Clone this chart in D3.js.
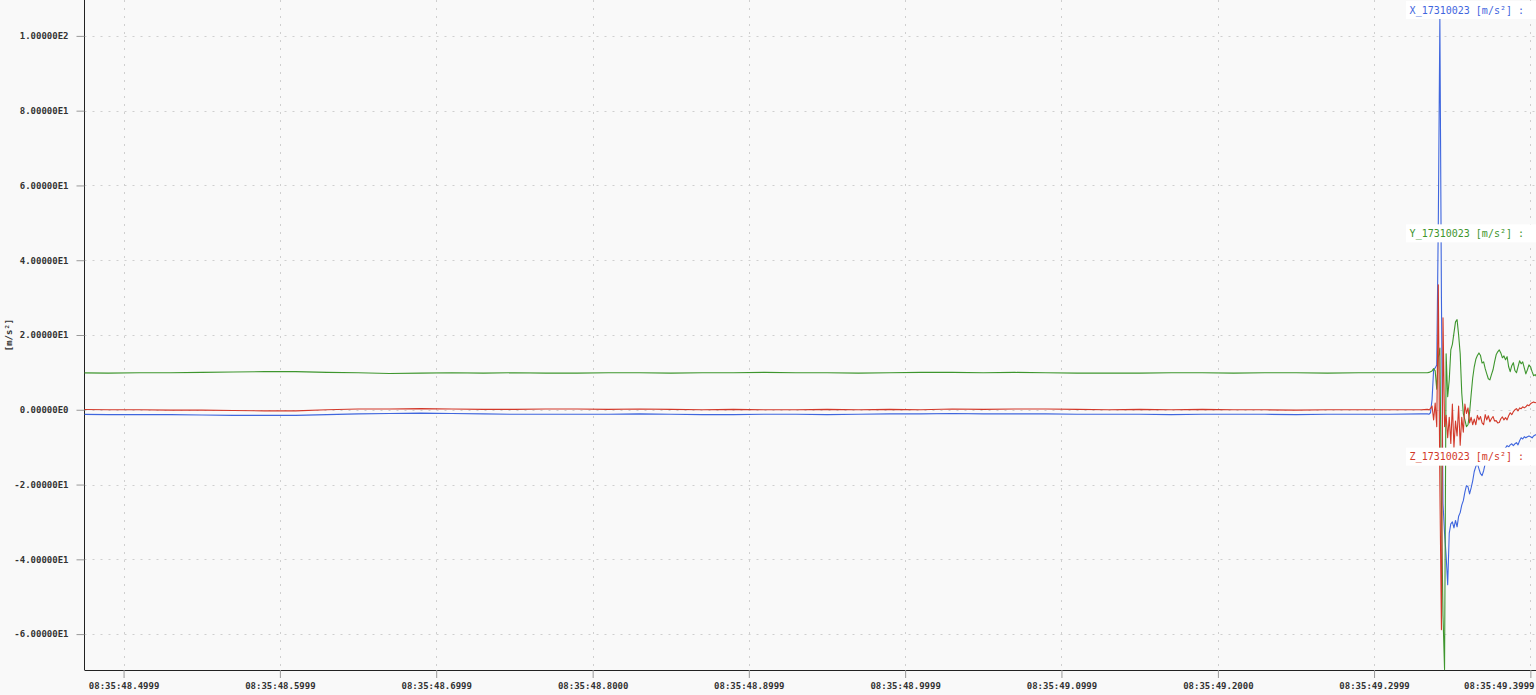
<!DOCTYPE html>
<html>
  <head>
  <title>Accel</title>
  <style>
    body, html {
      margin: 0;
      padding: 0;
      background: #f9f9f9;
      overflow: hidden;
    }
    text {
      font-family: "DejaVu Sans Mono", monospace;
    }
  </style>
  </head>
  <body>

  <svg id="svg" width="1536" height="695"></svg>
  <script src="https://d3js.org/d3.v7.min.js"></script>
  <script>
      // time in ms relative to 08:35:49.3000
      const timeMs = [
        -830, -810, -790, -770, -750, -730, -710, -690, -670, -650, -630, -610, -590, -570, -550,
        -530, -510, -490, -470, -450, -430, -410, -390, -370, -350, -330, -310, -290, -270, -250,
        -230, -210, -190, -170, -150, -130, -110, -90, -70, -50, -30, -10, 10, 30,
        34, 35, 36, 37, 38, 39, 40, 41, 42, 43, 44, 45, 46, 47, 48, 49, 50, 51, 52, 53,
        54, 55, 56, 57, 58, 59, 60, 61, 62, 63, 64, 65, 66, 67, 68, 69, 70, 71, 72, 73,
        74, 75, 76, 77, 78, 79, 80, 81, 82, 83, 84, 85, 86, 87, 88, 89, 90, 91, 92, 93,
        94, 95, 96, 97, 98, 99, 100, 101, 102, 103, 104
      ]
      const xValues = [
        -1.2, -1.3, -1.3, -1.3, -1.4, -1.5, -1.5, -1.5, -1.3, -1.1, -1.0, -0.9, -1.0, -1.1, -1.2,
        -1.2, -1.2, -1.2, -1.1, -1.2, -1.3, -1.3, -1.2, -1.2, -1.3, -1.2, -1.1, -1.1, -1.0, -1.1,
        -1.1, -1.1, -1.2, -1.2, -1.2, -1.3, -1.2, -1.2, -1.2, -1.3, -1.2, -1.2, -1.2, -1.1,
        -1.1, -1.2, -0.8, 2.7, 10.7, 11.2, 12.0, 50, 104.8, 30, -25, -33, -39, -46.8, -33, -30.5,
        -30, -31.6, -29.6, -31.3, -28.5, -27.5, -25.5, -24.3, -22, -20.3, -20.6, -22.5, -20.9, -19,
        -16.5, -15.2, -14.4, -15.8, -17.1, -17.6, -16.3, -14.4, -14.2, -13.9, -14.2, -13.1, -12.3,
        -12.6, -11.8, -11.2, -11.5, -10.7, -10.4, -10.7, -10.2, -9.6, -9.9, -9.4, -9.1, -9.6, -9.1,
        -8.8, -9.4, -8.3, -7.5, -7.8, -7.2, -7.5, -7.2, -7.0, -7.2, -7.5, -7.0, -6.7, -6.7
      ]
      const yValues = [
        9.9, 9.8, 9.9, 9.9, 10.0, 10.1, 10.2, 10.2, 10.0, 9.9, 9.7, 9.8, 9.9, 9.8, 9.9,
        9.8, 9.8, 9.9, 9.9, 9.8, 9.9, 9.9, 10.0, 9.9, 9.9, 9.8, 9.9, 10.0, 10.0, 9.9,
        10.0, 9.9, 9.8, 9.8, 9.8, 9.9, 9.9, 9.8, 9.9, 9.9, 9.8, 9.9, 9.9, 9.9,
        9.9, 10.0, 10.2, 10.4, 11.0, 10.4, 5.5, 14, 16.5, -25, -55, -69.5, 15, 3.5, 8, 16,
        17.5, 20.5, 23.5, 24.1, 20, 15, 4.5, -1, -2.7, -4.5, -4, -0.8, 4, 8.5,
        11.5, 13.5, 14.5, 15.2, 14.5, 12.5, 12.8, 11, 9.6, 8.3, 8.0, 9.4, 10.7,
        12.8, 14.7, 15.5, 16.0, 15.2, 13.9, 14.4, 13.4, 14.2, 11.5, 10.2, 11.8, 12.6, 10.5,
        9.9, 11.5, 13.1, 12.3, 12.8, 11.2, 9.6, 10.7, 12.0, 11.5, 10.2, 9.1, 9.4, 8.8
      ]
      const zValues = [
        0.1, 0.0, 0.0, -0.1, -0.1, -0.2, -0.3, -0.3, 0.0, 0.2, 0.2, 0.3, 0.2, 0.1, 0.1,
        0.2, 0.2, 0.1, 0.2, 0.1, 0.0, 0.1, 0.0, 0.0, 0.1, 0.0, 0.1, 0.0, 0.2, 0.1,
        0.2, 0.2, 0.1, 0.0, 0.1, 0.0, 0.1, 0.0, 0.0, -0.1, 0.0, 0.0, 0.0, 0.0,
        0.1, 0.0, 0.3, 1.0, -2.7, 1.8, -4.5, 33.4, -20, -58.8, 24.6, -4.5, -1.5, -7.5, -2, -9,
        1.5, -10, -3, -7, 1, -9.5, -2, -6, 1.5, -1, 0.5, -3.5, -2, -4,
        -2.5, -4, -1.5, -2.7, -1.8, -3.5, -4.0, -1.3, -2.7, -1.6, -3.2, -2.4, -1.8,
        -3.0, -2.9, -3.5, -3.4, -2.4, -1.9, -2.7, -2.1, -2.7, -1.6, -0.8, -1.3, -0.5, 0.0,
        0.3, -0.3, 0.5, 0.3, 0.8, 0.5, 0.8, 1.3, 1.1, 1.6, 1.9, 2.1, 1.9, 2.0
      ]
      const seriesNames = ['X_17310023 [m/s²] :', 'Y_17310023 [m/s²] :', 'Z_17310023 [m/s²] :']
      const seriesColors = ['#3f66de', '#3e962e', '#d2392a']
      const xTickLabels = [
        '08:35:48.4999', '08:35:48.5999', '08:35:48.6999', '08:35:48.8000', '08:35:48.8999',
        '08:35:48.9999', '08:35:49.0999', '08:35:49.2000', '08:35:49.2999', '08:35:49.3999'
      ]
      const yTickValues = [-60, -40, -20, 0, 20, 40, 60, 80, 100]
      const yTickLabels = ['-6.00000E1', '-4.00000E1', '-2.00000E1', '0.00000E0', '2.00000E1',
        '4.00000E1', '6.00000E1', '8.00000E1', '1.00000E2']
      const xDomain = [-825.1, 103.5]
      const yDomain = [-69.6, 109.6]

      function draw() {
        const width = 1536
        const height = 695
        const margin = { left: 84.5, right: 0, top: 0, bottom: 25 }
        const innerH = height - margin.top - margin.bottom

        const x = d3.scaleLinear().domain(xDomain).range([margin.left, width - margin.right])
        const y = d3.scaleLinear().domain(yDomain).range([height - margin.bottom, margin.top])

        const tickMs = xTickLabels.map(s => {
          const p = s.split(':')
          return (+p[2] - 49.3) * 1000
        })

        const svg = d3.select('#svg')
        svg.append('rect').attr('width', width).attr('height', height).attr('fill', '#f9f9f9')

        svg.append('clipPath').attr('id', 'clip')
            .append('rect')
            .attr('x', margin.left).attr('y', margin.top)
            .attr('width', width - margin.left - margin.right)
            .attr('height', innerH + 0.5)

        // grid
        const grid = svg.append('g')
            .attr('stroke', '#cfcfcf')
            .attr('stroke-dasharray', '2,6')
            .attr('stroke-width', 1)
        grid.selectAll('line.gx')
            .data(tickMs)
            .join('line')
            .attr('class', 'gx')
            .attr('x1', d => Math.round(x(d)) + 0.5)
            .attr('x2', d => Math.round(x(d)) + 0.5)
            .attr('y1', margin.top)
            .attr('y2', height - margin.bottom)
        grid.selectAll('line.gy')
            .data(yTickValues)
            .join('line')
            .attr('class', 'gy')
            .attr('x1', margin.left)
            .attr('x2', width)
            .attr('y1', d => Math.round(y(d)) + 0.5)
            .attr('y2', d => Math.round(y(d)) + 0.5)

        // axes
        const xAxis = d3.axisBottom(x)
            .tickValues(tickMs)
            .tickFormat((d, i) => xTickLabels[i])
            .tickSize(8)
            .tickPadding(5)
        const gx = svg.append('g')
            .attr('transform', `translate(0, ${height - margin.bottom})`)
            .call(xAxis)
        gx.select('.domain').attr('stroke', '#222').attr('d', `M${margin.left},0.5H${width}`)
        gx.selectAll('.tick line').attr('stroke', '#999')
        gx.selectAll('.tick text')
            .attr('font-family', 'DejaVu Sans Mono')
            .attr('font-size', 9)
            .attr('font-weight', 'bold')
            .attr('fill', '#333')
        // keep the last label inside the page, like the original viewer does
        gx.selectAll('.tick text').each(function(d) {
          const box = this.getBBox()
          const right = x(d) + box.x + box.width
          if (right > width - 2) {
            d3.select(this).attr('x', (width - 2) - right)
          }
        })

        const yAxis = d3.axisLeft(y)
            .tickValues(yTickValues)
            .tickFormat((d, i) => yTickLabels[i])
            .tickSize(8)
            .tickPadding(8)
        const gy = svg.append('g')
            .attr('transform', `translate(${margin.left}, 0)`)
            .call(yAxis)
        gy.select('.domain').attr('stroke', '#222').attr('d', `M0,0V${height - margin.bottom}`)
        gy.selectAll('.tick line').attr('stroke', '#999')
        gy.selectAll('.tick text')
            .attr('font-family', 'DejaVu Sans Mono')
            .attr('font-size', 9)
            .attr('font-weight', 'bold')
            .attr('fill', '#333')

        svg.append('text')
            .attr('transform', `translate(12, ${margin.top + innerH / 2}) rotate(-90)`)
            .attr('text-anchor', 'middle')
            .attr('font-size', 9)
            .attr('font-weight', 'bold')
            .attr('fill', '#333')
            .text('[m/s²]')

        // lines
        const seriesVals = [xValues, yValues, zValues]
        const line = d3.line()
            .x((d, i) => x(timeMs[i]))
            .y(d => y(d))
        svg.append('g')
            .attr('clip-path', 'url(#clip)')
            .selectAll('path')
            .data(seriesVals)
            .join('path')
            .attr('d', d => line(d))
            .attr('fill', 'none')
            .attr('stroke', (d, i) => seriesColors[i])
            .attr('stroke-width', 1.1)
            .attr('stroke-linejoin', 'round')

        // channel labels
        const labels = svg.append('g')
            .selectAll('g')
            .data(seriesNames)
            .join('g')
            .attr('transform', (d, i) => `translate(1524, ${margin.top + i * innerH / 3 + 10})`)
        labels.append('rect')
            .attr('x', -118)
            .attr('y', -9)
            .attr('width', 130)
            .attr('height', 18)
            .attr('fill', '#ffffff')
        labels.append('text')
            .attr('text-anchor', 'end')
            .attr('dy', '0.35em')
            .attr('font-size', 10)
            .attr('fill', (d, i) => seriesColors[i])
            .text(d => d)
      }
      draw()
  </script>
</body>
</html>
